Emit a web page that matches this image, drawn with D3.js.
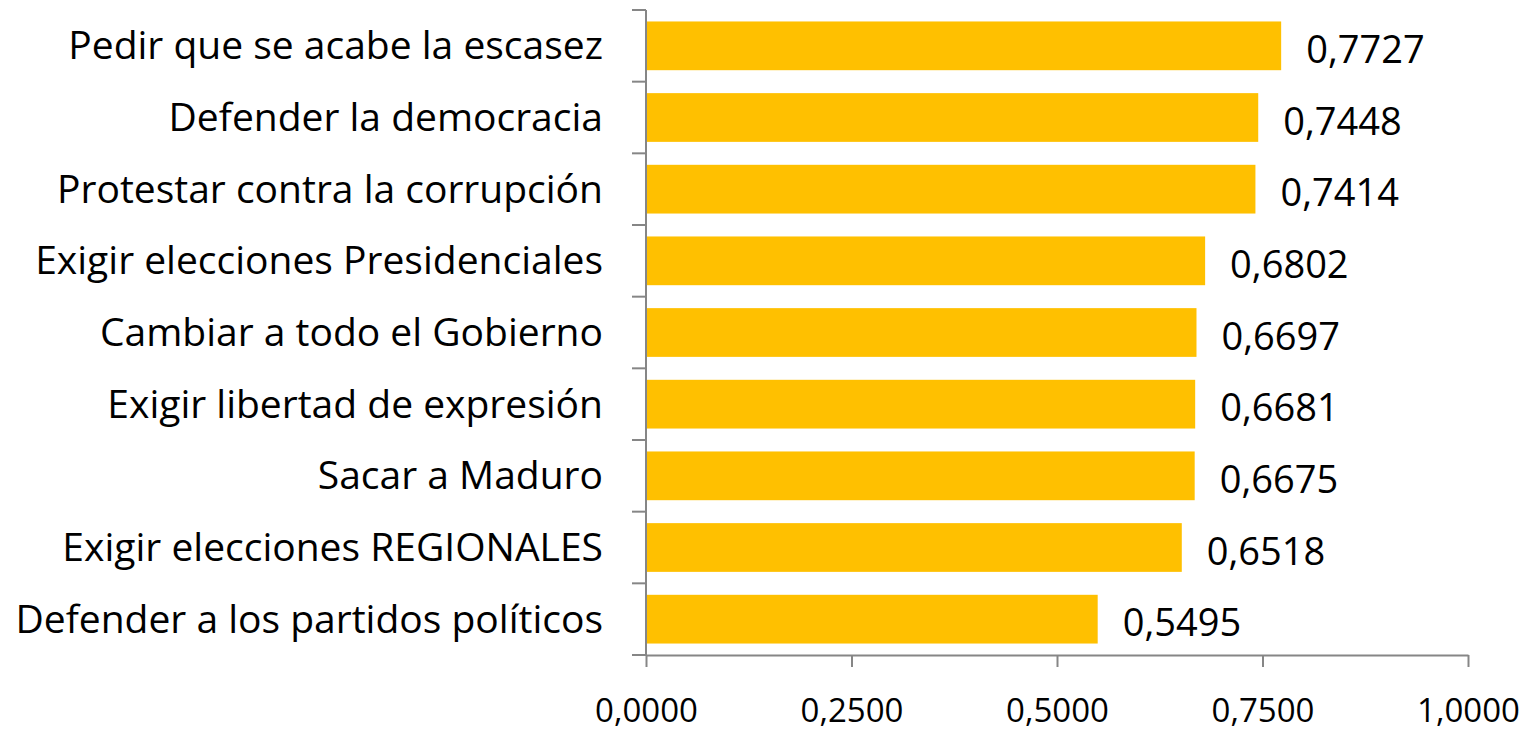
<!DOCTYPE html>
<html>
<head>
<meta charset="utf-8">
<script src="https://cdn.jsdelivr.net/npm/d3@7"></script>
<style>
  body { margin: 0; background: #fff; }
  text { font-family: "Open Sans", sans-serif; fill: #000; }
</style>
</head>
<body>
<div id="chart1"></div>
<script>
const width = 1530;
const height = 732;

// data
const categories = [
    "Pedir que se acabe la escasez",
    "Defender la democracia",
    "Protestar contra la corrupción",
    "Exigir elecciones Presidenciales",
    "Cambiar a todo el Gobierno",
    "Exigir libertad de expresión",
    "Sacar a Maduro",
    "Exigir elecciones REGIONALES",
    "Defender a los partidos políticos"
];
const values = [0.7727, 0.7448, 0.7414, 0.6802, 0.6697, 0.6681, 0.6675, 0.6518, 0.5495];
const xTicks = [0, 0.25, 0.5, 0.75, 1];

const margin = { top: 10, left: 646, bottom: 77, right: 62 };

const locale = d3.formatLocale({ decimal: ",", thousands: ".", grouping: [3], currency: ["", ""] });
const fmt = locale.format(".4f");

const svg = d3.select("#chart1").append("svg").attr("width", width).attr("height", height);

const xScale = d3.scaleLinear()
    .domain([0, 1])
    .range([margin.left, width - margin.right]);

const pad = 0.32;
const yScale = d3.scaleBand()
    .domain(categories)
    .range([margin.top, height - margin.bottom])
    .paddingInner(pad)
    .paddingOuter(pad / 2);

const axisColor = "#868686";
const data = categories.map((c, i) => ({ cat: c, value: values[i] }));

// bars
svg.selectAll("rect.bar")
    .data(data)
    .join("rect")
    .attr("class", "bar")
    .attr("x", xScale(0))
    .attr("y", d => yScale(d.cat))
    .attr("width", d => xScale(d.value) - xScale(0))
    .attr("height", yScale.bandwidth())
    .attr("fill", "#FFC000");

// y axis: line + ticks at band boundaries
const step = yScale.step();
const bounds = d3.range(categories.length + 1).map(i => yScale.range()[0] + i * step);
const y0 = yScale.range()[0], y1 = yScale.range()[1];

svg.append("line")
    .attr("x1", xScale(0)).attr("x2", xScale(0))
    .attr("y1", y0).attr("y2", y1)
    .attr("stroke", axisColor).attr("stroke-width", 2);

svg.selectAll("line.ytick")
    .data(bounds)
    .join("line")
    .attr("class", "ytick")
    .attr("x1", xScale(0) - 14).attr("x2", xScale(0))
    .attr("y1", d => d).attr("y2", d => d)
    .attr("stroke", axisColor).attr("stroke-width", 2);

// x axis
const xAxis = d3.axisBottom(xScale)
    .tickValues(xTicks)
    .tickFormat(fmt)
    .tickSizeInner(12)
    .tickSizeOuter(0)
    .tickPadding(32);

const gx = svg.append("g")
    .attr("transform", `translate(0,${y1})`)
    .call(xAxis);
gx.select(".domain").attr("stroke", axisColor).attr("stroke-width", 2);
gx.selectAll(".tick line").attr("stroke", axisColor).attr("stroke-width", 2);
gx.selectAll(".tick text")
    .attr("font-family", "Open Sans")
    .attr("font-size", 33)
    .attr("fill", "#000");

// category labels
svg.selectAll("text.cat")
    .data(data)
    .join("text")
    .attr("class", "cat")
    .attr("x", xScale(0) - 43)
    .attr("y", d => yScale(d.cat) + yScale.bandwidth() / 2)
    .attr("dy", "0.35em")
    .attr("text-anchor", "end")
    .attr("font-size", 39)
    .text(d => d.cat);

// value labels
svg.selectAll("text.val")
    .data(data)
    .join("text")
    .attr("class", "val")
    .attr("x", d => xScale(d.value) + 25)
    .attr("y", d => yScale(d.cat) + yScale.bandwidth() / 2 + 4)
    .attr("dy", "0.35em")
    .attr("font-size", 38)
    .text(d => fmt(d.value));
</script>
</body>
</html>
